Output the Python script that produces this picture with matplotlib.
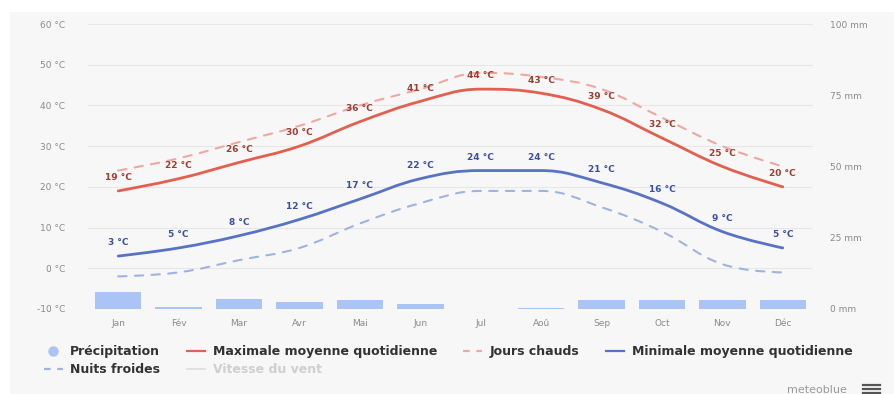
import matplotlib
matplotlib.use("Agg")
import matplotlib.pyplot as plt
from matplotlib.path import Path
from matplotlib.patches import PathPatch, Rectangle
from matplotlib.lines import Line2D

# Monthly climate values
months = ["Jan", "Fév", "Mar", "Avr", "Mai", "Jun", "Jul", "Aoû", "Sep", "Oct", "Nov", "Déc"]
temp_max = [19, 22, 26, 30, 36, 41, 44, 43, 39, 32, 25, 20]
hot_days = [24, 27, 31, 35, 40, 44, 48, 47, 44, 37, 30, 25]
temp_min = [3, 5, 8, 12, 17, 22, 24, 24, 21, 16, 9, 5]
cold_nights = [-2, -1, 2, 5, 11, 16, 19, 19, 15, 9, 1, -1]
precip_mm = [6, 0.8, 3.5, 2.5, 3.2, 1.7, 0, 0.5, 3, 3, 3, 3]

temp_ticks = [-10, 0, 10, 20, 30, 40, 50, 60]
mm_ticks = [0, 25, 50, 75, 100]

C_MAX = "#e4604e"
C_HOT = "#f2a6a0"
C_MIN = "#5872c6"
C_COLD = "#9fb3e0"
C_BAR = "#a9c4f5"
C_LBL_RED = "#9e3d30"
C_LBL_BLUE = "#3a50a8"
C_TICK = "#8a8a8a"


def spline_path(xs, ys, smoothing=1.5):
    """Cubic Bezier path through the points, Highcharts-style spline."""
    denom = smoothing + 1
    n = len(xs)
    left = [None] * n
    right = [None] * n
    for i in range(n):
        x, y = xs[i], ys[i]
        if 0 < i < n - 1:
            lx, ly = xs[i - 1], ys[i - 1]
            nx, ny = xs[i + 1], ys[i + 1]
            lcx = (smoothing * x + lx) / denom
            lcy = (smoothing * y + ly) / denom
            rcx = (smoothing * x + nx) / denom
            rcy = (smoothing * y + ny) / denom
            corr = 0.0
            if rcx != lcx:
                corr = (rcy - lcy) * (rcx - x) / (rcx - lcx) + y - rcy
            lcy += corr
            rcy += corr
            if lcy > ly and lcy > y:
                lcy = max(ly, y)
                rcy = 2 * y - lcy
            elif lcy < ly and lcy < y:
                lcy = min(ly, y)
                rcy = 2 * y - lcy
            if rcy > ny and rcy > y:
                rcy = max(ny, y)
                lcy = 2 * y - rcy
            elif rcy < ny and rcy < y:
                rcy = min(ny, y)
                lcy = 2 * y - rcy
            left[i] = (lcx, lcy)
            right[i] = (rcx, rcy)
        else:
            left[i] = (x, y)
            right[i] = (x, y)
    verts = [(xs[0], ys[0])]
    codes = [Path.MOVETO]
    for i in range(1, n):
        verts += [right[i - 1], left[i], (xs[i], ys[i])]
        codes += [Path.CURVE4] * 3
    return Path(verts, codes)


fig = plt.figure(figsize=(8.94, 3.94), dpi=100, facecolor="white")
fig.add_artist(Rectangle((10 / 894, 0), 1, (394 - 12) / 394, transform=fig.transFigure,
                         facecolor="#f7f7f7", edgecolor="none", zorder=-10))

ax = fig.add_axes([88 / 894, (394 - 309) / 394, (813 - 88) / 894, 285 / 394])
ax.set_facecolor("none")
ax2 = ax.twinx()
ax2.set_facecolor("none")

x = list(range(len(months)))
ax.set_xlim(-0.5, len(months) - 0.5)
ax.set_ylim(-10, 60)
ax2.set_ylim(0, 100)

for s in list(ax.spines.values()) + list(ax2.spines.values()):
    s.set_visible(False)

ax.set_yticks(temp_ticks)
ax.set_yticklabels([f"{t} °C" for t in temp_ticks])
ax.grid(axis="y", color="#e7e7e7", linewidth=0.8)
ax.set_axisbelow(True)
ax.tick_params(axis="y", length=0, pad=16.5, labelsize=6.5, labelcolor=C_TICK)
ax.set_xticks(x)
ax.set_xticklabels(months)
ax.tick_params(axis="x", length=0, pad=7, labelsize=6.5, labelcolor=C_TICK)

ax2.set_yticks(mm_ticks)
ax2.set_yticklabels([f"{m} mm" for m in mm_ticks])
ax2.tick_params(axis="y", length=0, pad=12, labelsize=6.5, labelcolor=C_TICK)

# Precipitation bars on the mm axis
ax2.bar(x, precip_mm, width=0.77, color=C_BAR, zorder=1)

# Temperature curves
series = [
    (hot_days, C_HOT, (0, (4, 4)), 1.5),
    (cold_nights, C_COLD, (0, (4, 4)), 1.5),
    (temp_max, C_MAX, "solid", 2.0),
    (temp_min, C_MIN, "solid", 2.0),
]
for vals, col, ls, lw in series:
    ax.add_patch(PathPatch(spline_path(x, vals), facecolor="none", edgecolor=col,
                           linewidth=lw, linestyle=ls, capstyle="round", zorder=3))

for xi, v in zip(x, temp_max):
    ax.annotate(f"{v} °C", (xi, v), xytext=(0, 9.5), textcoords="offset points",
                ha="center", va="center", fontsize=6.5, fontweight="bold",
                color=C_LBL_RED, zorder=5)
for xi, v in zip(x, temp_min):
    ax.annotate(f"{v} °C", (xi, v), xytext=(0, 9.5), textcoords="offset points",
                ha="center", va="center", fontsize=6.5, fontweight="bold",
                color=C_LBL_BLUE, zorder=5)

# Legend
handles = [
    Line2D([], [], marker="o", markersize=6.5, color=C_BAR, linestyle="none"),
    Line2D([], [], color=C_COLD, linewidth=1.6, linestyle=(0, (3, 3))),
    Line2D([], [], color=C_MAX, linewidth=1.6),
    Line2D([], [], color="#dddddd", linewidth=1.2),
    Line2D([], [], color=C_HOT, linewidth=1.6, linestyle=(0, (3, 3))),
    Line2D([], [], color=C_MIN, linewidth=1.6),
]
labels = ["Précipitation", "Nuits froides", "Maximale moyenne quotidienne",
          "Vitesse du vent", "Jours chauds", "Minimale moyenne quotidienne"]
leg = fig.legend(handles, labels, ncol=4, loc="upper left",
                 bbox_to_anchor=(44 / 894, 1 - 345 / 394), frameon=False,
                 prop={"size": 9, "weight": "bold"}, handlelength=1.5,
                 handletextpad=0.6, columnspacing=2.1, labelspacing=0.4,
                 borderaxespad=0, borderpad=0)
for t in leg.get_texts():
    t.set_color("#333333")
leg.get_texts()[3].set_color("#cfcfcf")

# Footer branding
fig.text(847 / 894, 1 - 390 / 394, "meteoblue", ha="right", va="center",
         fontsize=8, color="#9a9a9a")
for yy in (385, 389, 393):
    fig.add_artist(Line2D([863 / 894, 880 / 894], [1 - yy / 394, 1 - yy / 394],
                          transform=fig.transFigure, color="#555555", linewidth=1.6))

fig.savefig("out.png", dpi=100, facecolor=fig.get_facecolor())
